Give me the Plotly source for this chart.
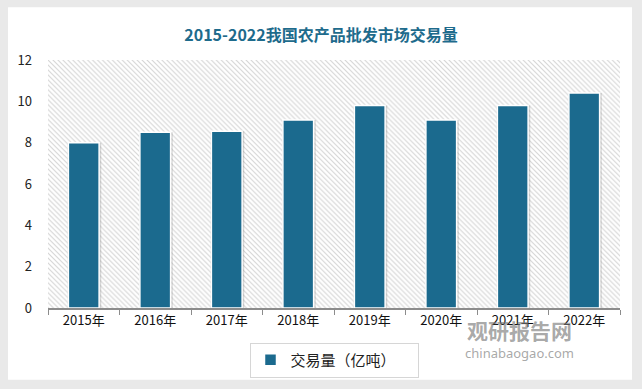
import plotly.graph_objects as go

years = ["2015年", "2016年", "2017年", "2018年", "2019年", "2020年", "2021年", "2022年"]
volume = [8.0, 8.5, 8.55, 9.1, 9.8, 9.1, 9.8, 10.4]
series_name = "交易量（亿吨）"
title = "2015-2022我国农产品批发市场交易量"
y_ticks = [0, 2, 4, 6, 8, 10, 12]

BAR = "#1b6a8e"
FONT = "Noto Sans CJK SC"

fig = go.Figure()

# hatched plot background (decoration) on base axis
fig.add_trace(go.Bar(
    x=[0], y=[12], width=[1], xaxis="x", yaxis="y",
    marker=dict(color="white", line=dict(width=0),
                pattern=dict(shape="\\", size=3.5, solidity=0.3,
                             fgcolor="#d4d4d4", bgcolor="white", fillmode="replace")),
    showlegend=False, hoverinfo="skip",
))

# shadow (decoration)
fig.add_trace(go.Bar(
    x=years, y=volume, xaxis="x2", yaxis="y",
    marker=dict(color="rgba(120,120,120,0.28)", line=dict(width=0)),
    width=0.47, offset=-0.225,
    showlegend=False, hoverinfo="skip",
))

fig.add_trace(go.Bar(
    x=years, y=volume, xaxis="x2", yaxis="y", name=series_name,
    marker=dict(color=BAR, line=dict(color="white", width=1.5)),
    width=0.43, offset=-0.215,
))

fig.update_layout(
    width=642, height=389,
    margin=dict(l=48, r=22, t=60, b=80),
    paper_bgcolor="#e9e9e9",
    plot_bgcolor="white",
    barmode="overlay",
    font=dict(family=FONT, color="#222222", size=13),
    title=dict(text="<b>" + title + "</b>", x=0.5, xanchor="center", y=0.91, yanchor="middle",
               font=dict(family=FONT, size=16, color="#1e6b8c")),
    xaxis=dict(range=[-0.5, 0.5], visible=False, fixedrange=True),
    xaxis2=dict(overlaying="x", side="bottom", type="category", showgrid=False,
                showline=True, linecolor="#8c8c8c", linewidth=1.5,
                ticks="outside", tickson="boundaries", ticklen=5, tickcolor="#8c8c8c",
                tickfont=dict(family=FONT, size=13, color="#111111"),
                range=[-0.5, 7.5]),
    yaxis=dict(range=[0, 12], tickvals=y_ticks, showgrid=False, zeroline=False,
               showline=False, ticks="", ticklabelstandoff=15,
               tickfont=dict(size=13, color="#222222")),
    legend=dict(orientation="h", x=0.5, xanchor="center", y=-0.135, yanchor="top",
                bordercolor="#d6d6d6", borderwidth=1, bgcolor="white",
                font=dict(size=15, color="#222222"), itemwidth=30,
                entrywidth=122),
    shapes=[dict(type="rect", xref="paper", yref="paper",
                 x0=-0.0699, x1=1.021, y0=-0.289, y1=1.213,
                 fillcolor="white", line=dict(width=0), layer="below")],
    annotations=[
        dict(text="<b>观研报告网</b>", xref="paper", yref="paper", x=0.825, y=-0.09,
             xanchor="center", yanchor="middle", showarrow=False,
             font=dict(size=21, color="rgba(120,120,120,0.65)", family=FONT)),
        dict(text="chinabaogao.com", xref="paper", yref="paper", x=0.825, y=-0.18,
             xanchor="center", yanchor="middle", showarrow=False,
             font=dict(size=13, color="rgba(130,130,130,0.7)", family="Noto Sans")),
    ],
)

fig.write_html("out.html", config={"displayModeBar": False},
               post_script="document.body.style.margin='0px';")
